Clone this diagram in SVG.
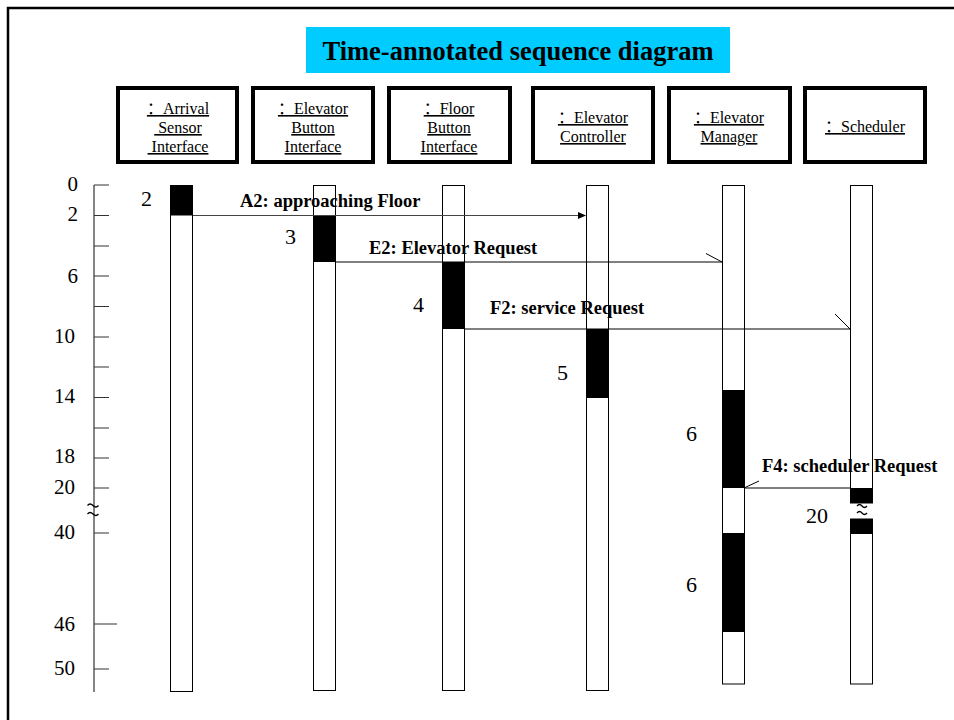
<svg xmlns="http://www.w3.org/2000/svg" width="954" height="720" viewBox="0 0 954 720">
<style>
.frame{fill:none;stroke:#000;stroke-width:2.5}
.obj{fill:#fff;stroke:#000;stroke-width:4}
.ot{font-family:"Liberation Serif","Noto Sans CJK SC",serif;font-size:16px;text-anchor:middle;text-decoration:underline;fill:#000}
.life{fill:#fff;stroke:#000;stroke-width:1}
.act{fill:#000}
.num{font-family:"Liberation Serif",serif;font-size:21px;fill:#000}
.big{font-size:22px}
.ax{stroke:#333;stroke-width:1.2;fill:none}
.msg{stroke:#000;stroke-width:1;fill:none}
.lbl{font-family:"Liberation Serif",serif;font-weight:bold;font-size:18.5px;fill:#000}
.brk{stroke:#000;stroke-width:1.3;fill:none}
</style>
<rect class="frame" x="8" y="8" width="1000" height="800"/>
<g id="title">
<rect x="306" y="27" width="424" height="46" fill="#00CCFF"/>
<text x="518" y="60" font-family="Liberation Serif,serif" font-weight="bold" font-size="26.5" text-anchor="middle">Time-annotated sequence diagram</text>
</g>
<g id="time-axis">
<line class="ax" x1="94" y1="185" x2="94" y2="692"/>
<path class="ax" d="M94,185H109M94,215.5H109M94,246H109M94,276H109M94,306.5H109M94,337H109M94,367H109M94,397.5H109M94,428H109M94,458H109M94,488H109M94,533H109M94,624H117M94,669H109"/>
<path class="brk" d="M87.5,505.5q2.5,-3 5.5,0t5.5,0M87.5,514q2.5,-3 5.5,0t5.5,0"/>
<g class="num" text-anchor="end">
<text x="78" y="191">0</text>
<text x="78" y="221">2</text>
<text x="78" y="283">6</text>
<text x="75" y="343">10</text>
<text x="75" y="403">14</text>
<text x="75" y="463">18</text>
<text x="75" y="494">20</text>
<text x="75" y="539">40</text>
<text x="75" y="631">46</text>
<text x="75" y="675">50</text>
</g>
</g>
<g id="arrival-sensor-interface">
<rect class="obj" x="118" y="88" width="119" height="74"/>
<text class="ot" x="178" y="114">：Arrival</text>
<text class="ot" x="178" y="133">&#160;Sensor</text>
<text class="ot" x="178" y="152">&#160;Interface</text>
<rect class="life" x="170.5" y="185.5" width="22" height="506"/>
<rect class="act" x="170" y="185" width="23" height="30.5"/>
<text class="num big" x="141" y="206">2</text>
</g>
<g id="elevator-button-interface">
<rect class="obj" x="253" y="88" width="120" height="74"/>
<text class="ot" x="313" y="114">：Elevator</text>
<text class="ot" x="313" y="133">Button</text>
<text class="ot" x="313" y="152">Interface</text>
<rect class="life" x="313.5" y="185.5" width="22" height="505"/>
<rect class="act" x="313" y="215.5" width="23" height="46.5"/>
<text class="num big" x="285" y="244">3</text>
</g>
<g id="floor-button-interface">
<rect class="obj" x="389" y="88" width="121" height="74"/>
<text class="ot" x="449" y="114">：Floor</text>
<text class="ot" x="449" y="133">Button</text>
<text class="ot" x="449" y="152">Interface</text>
<rect class="life" x="442.5" y="185.5" width="22" height="505"/>
<rect class="act" x="442" y="262" width="23" height="67"/>
<text class="num big" x="413" y="312">4</text>
</g>
<g id="elevator-controller">
<rect class="obj" x="533" y="88" width="120" height="74"/>
<text class="ot" x="593" y="123">：Elevator</text>
<text class="ot" x="593" y="142">Controller</text>
<rect class="life" x="586.5" y="185.5" width="22" height="505"/>
<rect class="act" x="586" y="329" width="23" height="69"/>
<text class="num big" x="557" y="380">5</text>
</g>
<g id="elevator-manager">
<rect class="obj" x="669" y="88" width="121" height="74"/>
<text class="ot" x="729" y="123">：Elevator</text>
<text class="ot" x="729" y="142">Manager</text>
<rect class="life" x="722.5" y="185.5" width="22" height="498.5"/>
<rect class="act" x="722" y="390" width="23" height="98"/>
<rect class="act" x="722" y="533" width="23" height="99"/>
<text class="num big" x="686" y="441">6</text>
<text class="num big" x="686" y="592">6</text>
</g>
<g id="scheduler">
<rect class="obj" x="805" y="88" width="120" height="74"/>
<text class="ot" x="865" y="132">：Scheduler</text>
<rect class="life" x="850.5" y="185.5" width="22" height="317.5"/>
<rect class="life" x="850.5" y="519" width="22" height="165"/>
<rect class="act" x="850" y="488" width="23" height="15"/>
<rect class="act" x="850" y="519" width="23" height="15"/>
<path class="brk" d="M857,506q2.5,-3 5,0t5,0M857,513q2.5,-3 5,0t5,0"/>
<text class="num big" x="806" y="523">20</text>
</g>
<g id="connectors">
<g id="msg-A2">
<line x1="193" y1="215.5" x2="580" y2="215.5" stroke="#444" stroke-width="1"/>
<path d="M578,212L586,215.5L578,219Z" fill="#000"/>
<text class="lbl" x="240" y="207">A2: approaching Floor</text>
</g>
<g id="msg-E2">
<path class="msg" d="M336,262H722M706,253.5L722,262"/>
<text class="lbl" x="369" y="254">E2: Elevator Request</text>
</g>
<g id="msg-F2">
<path class="msg" d="M465,329H850M835,314L850,329"/>
<text class="lbl" x="490" y="314">F2: service Request</text>
</g>
<g id="msg-F4">
<path class="msg" d="M850,488H744M744,488L759,481"/>
<text class="lbl" x="762" y="472">F4: scheduler Request</text>
</g>
</g>
</svg>
